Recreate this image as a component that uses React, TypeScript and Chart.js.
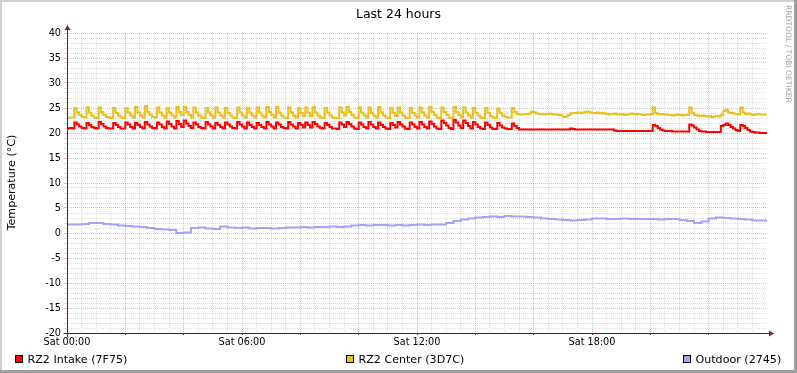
import React, { useEffect, useRef } from 'react';
import { Chart, registerables } from 'chart.js';

Chart.register(...registerables);

const CANVAS_W = 797;
const CANVAS_H = 373;
const FONT = '"DejaVu Sans", sans-serif';

const TITLE = 'Last 24 hours';
const Y_AXIS_TITLE = 'Temperature (°C)';
const WATERMARK = 'RRDTOOL / TOBI OETIKER';

const Y_MIN = -20;
const Y_MAX = 40;
const X_MIN_H = 0;
const X_MAX_H = 24;
const X_LABEL_HOURS = [0, 6, 12, 18];
const X_LABELS = ['Sat 00:00', 'Sat 06:00', 'Sat 12:00', 'Sat 18:00'];

const SERIES_NAMES = ['RZ2 Intake (7F75)', 'RZ2 Center (3D7C)', 'Outdoor (2745)'];
const SERIES_COLORS = ['#FF0000', '#EAC01E', '#A3A3FA'];

// sample spacing in hours
const FINE_STEP_H = 5 / 60;
const COARSE_STEP_H = 0.25;

// RZ2 Intake, every 5 minutes (one row per hour)
const intake = [
  20.9, 20.9, 21.0, 20.9, 22.1, 21.7, 21.3, 21.0, 20.9, 22.0, 21.6, 21.2,
  21.0, 20.9, 22.2, 21.8, 21.3, 21.0, 20.9, 20.9, 22.0, 21.6, 21.2, 20.9,
  20.9, 22.1, 21.7, 21.2, 20.9, 22.0, 21.6, 21.2, 20.9, 22.2, 21.7, 21.3,
  21.0, 20.9, 22.1, 21.7, 21.2, 20.9, 22.3, 21.8, 21.3, 20.9, 22.4, 21.8,
  21.2, 22.5, 21.9, 21.4, 21.0, 22.1, 21.7, 21.2, 21.0, 20.9, 22.2, 21.7,
  21.3, 20.9, 22.0, 21.6, 21.2, 20.9, 22.1, 21.7, 21.3, 21.0, 20.9, 22.2,
  21.7, 21.3, 20.9, 22.1, 21.6, 21.2, 20.9, 22.0, 21.6, 21.2, 20.9, 22.2,
  21.7, 21.3, 20.9, 22.1, 21.7, 21.2, 21.0, 20.9, 22.2, 21.7, 21.3, 20.9,
  22.0, 21.6, 21.1, 22.1, 21.6, 21.1, 22.2, 21.8, 21.3, 21.0, 20.9, 22.0,
  21.6, 21.2, 20.9, 20.9, 20.8, 22.1, 21.7, 21.2, 22.2, 21.8, 21.3, 20.9,
  20.8, 22.1, 21.7, 21.2, 20.9, 22.2, 21.7, 21.2, 20.9, 22.1, 21.6, 21.2,
  20.9, 20.8, 22.0, 21.6, 21.1, 22.2, 21.7, 21.3, 20.9, 20.8, 22.1, 21.7,
  21.2, 20.9, 22.2, 21.7, 21.2, 20.9, 22.3, 21.8, 21.3, 20.9, 20.8, 22.5,
  22.0, 21.5, 21.0, 20.8, 22.6, 22.1, 21.5, 21.0, 22.5, 22.0, 21.4, 20.9,
  22.2, 21.7, 21.2, 20.9, 20.8, 22.1, 21.6, 21.1, 20.8, 20.8, 22.0, 21.5,
  21.1, 20.9, 20.8, 20.8, 21.9, 21.4, 21.0, 20.7, 20.7, 20.7, 20.7, 20.7,
  20.7, 20.7, 20.7, 20.7, 20.7, 20.7, 20.7, 20.7, 20.7, 20.7, 20.7, 20.7,
  20.7, 20.7, 20.7, 20.7, 20.9, 20.8, 20.7, 20.7, 20.7, 20.7, 20.7, 20.7,
  20.7, 20.7, 20.7, 20.7, 20.7, 20.7, 20.7, 20.7, 20.7, 20.7, 20.5, 20.4,
  20.4, 20.4, 20.4, 20.4, 20.4, 20.4, 20.4, 20.4, 20.4, 20.4, 20.4, 20.4,
  20.4, 20.4, 21.6, 21.4, 21.0, 20.7, 20.5, 20.4, 20.4, 20.4, 20.3, 20.3,
  20.3, 20.3, 20.3, 20.3, 20.3, 21.7, 21.5, 21.1, 20.7, 20.4, 20.3, 20.3,
  20.2, 20.2, 20.2, 20.2, 20.2, 20.2, 21.4, 21.6, 21.9, 21.6, 21.2, 20.9,
  20.6, 20.4, 21.6, 21.4, 21.0, 20.6, 20.3, 20.2, 20.1, 20.1, 20.0, 20.0,
  20.0,
];

// RZ2 Center, every 5 minutes
const center = [
  23.1, 23.1, 23.1, 23.1, 25.0, 24.1, 23.6, 23.2, 23.1, 25.1, 24.1, 23.5,
  23.1, 23.0, 25.1, 24.2, 23.6, 23.2, 23.1, 23.0, 25.0, 24.0, 23.5, 23.1,
  23.0, 25.0, 24.1, 23.5, 23.1, 25.2, 24.1, 23.5, 23.1, 25.4, 24.2, 23.6,
  23.2, 23.1, 25.1, 24.1, 23.5, 23.1, 25.0, 24.1, 23.5, 23.1, 25.2, 24.2,
  23.6, 25.2, 24.2, 23.6, 23.1, 25.1, 24.1, 23.5, 23.1, 23.0, 25.0, 24.1,
  23.5, 23.1, 25.1, 24.1, 23.5, 23.1, 25.0, 24.0, 23.5, 23.1, 23.0, 25.1,
  24.1, 23.5, 23.1, 25.0, 24.1, 23.5, 23.1, 25.1, 24.1, 23.5, 23.1, 25.2,
  24.2, 23.6, 23.1, 25.2, 24.1, 23.5, 23.1, 23.0, 25.1, 24.1, 23.5, 23.1,
  25.0, 24.0, 23.4, 25.1, 24.0, 23.4, 25.2, 24.1, 23.5, 23.1, 23.0, 25.0,
  24.1, 23.5, 23.1, 23.0, 23.0, 25.1, 24.1, 23.5, 25.2, 24.2, 23.6, 23.1,
  23.0, 25.1, 24.1, 23.5, 23.1, 25.1, 24.0, 23.5, 23.1, 25.2, 24.1, 23.5,
  23.1, 23.0, 25.0, 24.0, 23.4, 25.1, 24.1, 23.5, 23.1, 23.0, 25.0, 24.0,
  23.5, 23.1, 25.1, 24.1, 23.5, 23.1, 25.2, 24.2, 23.6, 23.1, 23.0, 25.1,
  24.2, 23.6, 23.1, 23.0, 25.2, 24.2, 23.6, 23.1, 25.1, 24.1, 23.5, 23.1,
  25.0, 24.0, 23.5, 23.1, 23.0, 25.0, 24.0, 23.4, 23.1, 23.0, 24.9, 24.0,
  23.5, 23.2, 23.1, 23.1, 25.0, 24.2, 23.8, 23.7, 23.7, 23.8, 23.8, 23.9,
  24.3, 24.1, 23.9, 23.8, 23.8, 23.7, 23.8, 23.9, 23.8, 23.7, 23.7, 23.6,
  23.5, 23.2, 23.3, 23.6, 23.9, 24.0, 24.0, 24.1, 24.0, 24.1, 24.2, 24.3,
  24.1, 24.0, 24.0, 24.1, 23.9, 24.0, 23.9, 23.8, 23.7, 23.8, 23.9, 23.7,
  23.7, 23.8, 23.6, 23.7, 23.8, 23.9, 23.8, 23.7, 23.8, 23.7, 23.6, 23.7,
  23.7, 23.8, 25.1, 24.0, 23.8, 23.7, 23.8, 23.7, 23.6, 23.6, 23.5, 23.6,
  23.7, 23.6, 23.5, 23.6, 23.6, 25.1, 24.0, 23.6, 23.5, 23.4, 23.5, 23.4,
  23.3, 23.4, 23.2, 23.3, 23.4, 23.3, 23.6, 24.4, 24.6, 24.1, 24.0, 23.9,
  23.8, 23.7, 25.1, 24.1, 23.8, 23.9, 23.7, 23.6, 23.7, 23.8, 23.7, 23.7,
  23.7,
];

// Outdoor, every 15 minutes (one row per hour)
const outdoor = [
  1.6, 1.7, 1.7, 1.8,
  2.0, 2.0, 1.8, 1.7,
  1.5, 1.4, 1.3, 1.2,
  1.0, 0.8, 0.7, 0.6,
  0.0, 0.1, 1.0, 1.1,
  0.9, 0.8, 1.3, 1.1,
  1.0, 1.1, 0.9, 1.0,
  1.0, 0.9, 1.0, 1.1,
  1.1, 1.2, 1.1, 1.2,
  1.2, 1.3, 1.2, 1.3,
  1.5, 1.6, 1.5, 1.6,
  1.6, 1.5, 1.6, 1.5,
  1.6, 1.7, 1.6, 1.7,
  1.7, 2.0, 2.4, 2.7,
  2.9, 3.1, 3.2, 3.3,
  3.2, 3.4, 3.3, 3.3,
  3.2, 3.1, 2.9, 2.8,
  2.7, 2.6, 2.5, 2.6,
  2.7, 2.9, 2.9, 2.8,
  2.8, 2.9, 2.8, 2.8,
  2.8, 2.8, 2.7, 2.8,
  2.8, 2.6, 2.4, 2.0,
  2.3, 2.9, 3.1, 3.0,
  2.9, 2.8, 2.7, 2.5,
  2.5,
];

const SERIES_VALUES = [intake, center, outdoor];
const SERIES_STEPS = [FINE_STEP_H, FINE_STEP_H, COARSE_STEP_H];

const MINOR_GRID = 'rgba(143,143,143,0.3)';
const MAJOR_GRID = 'rgba(222,79,79,0.42)';
const ARROW_COLOR = '#801F1F';
const AXIS_COLOR = '#3a2a2a';
const SHADE_A = '#CFCFCF';
const SHADE_B = '#9E9E9E';

const LEGEND_TEXT_X = [27.5, 358.5, 695.5];

const rrdPlugin = {
  id: 'rrdDecor',
  beforeDraw(chart: any) {
    const { ctx, width, height } = chart;
    ctx.save();
    ctx.fillStyle = '#ffffff';
    ctx.fillRect(0, 0, width, height);
    ctx.fillStyle = SHADE_A;
    ctx.fillRect(0, 0, width, 2);
    ctx.fillRect(0, 0, 2, height);
    ctx.fillStyle = SHADE_B;
    ctx.fillRect(0, height - 3, width, 3);
    ctx.fillRect(width - 3, 0, 3, height);
    ctx.restore();
  },
  afterDatasetsDraw(chart: any) {
    const { ctx, scales } = chart;
    const x0 = Math.round(scales.x.getPixelForValue(X_MIN_H)) + 0.5;
    const x1 = Math.round(scales.x.getPixelForValue(X_MAX_H));
    const yb = Math.round(scales.y.getPixelForValue(Y_MIN)) + 0.5;
    const yt = Math.round(scales.y.getPixelForValue(Y_MAX));
    ctx.save();
    ctx.strokeStyle = AXIS_COLOR;
    ctx.lineWidth = 1;
    ctx.beginPath();
    ctx.moveTo(x0 - 4, yb);
    ctx.lineTo(x1 + 2, yb);
    ctx.moveTo(x0, yb + 4);
    ctx.lineTo(x0, yt - 3);
    ctx.stroke();
    ctx.fillStyle = ARROW_COLOR;
    ctx.beginPath();
    ctx.moveTo(x1 + 2, yb - 3);
    ctx.lineTo(x1 + 7, yb);
    ctx.lineTo(x1 + 2, yb + 3);
    ctx.closePath();
    ctx.fill();
    ctx.beginPath();
    ctx.moveTo(x0 - 3, yt - 3);
    ctx.lineTo(x0, yt - 8);
    ctx.lineTo(x0 + 3, yt - 3);
    ctx.closePath();
    ctx.fill();
    ctx.restore();
  },
  afterDraw(chart: any) {
    const { ctx, width } = chart;
    ctx.save();
    ctx.fillStyle = '#000';
    ctx.textBaseline = 'alphabetic';
    // title
    ctx.font = `12.5px ${FONT}`;
    ctx.textAlign = 'center';
    ctx.fillText(TITLE, width / 2, 18);
    // vertical axis title
    ctx.save();
    ctx.font = `11.1px ${FONT}`;
    ctx.translate(15, 182.5);
    ctx.rotate(-Math.PI / 2);
    ctx.textAlign = 'center';
    ctx.fillText(Y_AXIS_TITLE, 0, 0);
    ctx.restore();
    // watermark
    ctx.save();
    ctx.font = `7.6px ${FONT}`;
    ctx.fillStyle = '#a0a0a0';
    ctx.translate(786, 5);
    ctx.rotate(Math.PI / 2);
    ctx.textAlign = 'left';
    ctx.fillText(WATERMARK, 0, 0);
    ctx.restore();
    // legend
    ctx.font = `11.1px ${FONT}`;
    ctx.textAlign = 'left';
    SERIES_NAMES.forEach((name, i) => {
      const tx = LEGEND_TEXT_X[i];
      const bx = Math.round(tx - 12.5);
      ctx.fillStyle = SERIES_COLORS[i];
      ctx.fillRect(bx, 355, 8, 8);
      ctx.strokeStyle = '#000';
      ctx.lineWidth = 1;
      ctx.strokeRect(bx + 0.5, 355.5, 7, 7);
      ctx.fillStyle = '#000';
      ctx.fillText(name, tx, 363);
    });
    ctx.restore();
  },
};

export default function App() {
  const canvasRef = useRef<HTMLCanvasElement | null>(null);

  useEffect(() => {
    document.body.style.margin = '0';
    const canvas = canvasRef.current;
    if (!canvas) return;

    const datasets = SERIES_VALUES.map((vals, si) => ({
      label: SERIES_NAMES[si],
      data: vals.map((v, i) => ({ x: i * SERIES_STEPS[si], y: v })),
      borderColor: SERIES_COLORS[si],
      backgroundColor: SERIES_COLORS[si],
      borderWidth: 2,
      pointRadius: 0,
      stepped: 'after' as const,
      fill: false,
      tension: 0,
      borderJoinStyle: 'miter' as const,
    }));

    const tickFont = { family: FONT, size: 9.7 };

    const chart = new Chart(canvas, {
      type: 'line',
      data: { datasets },
      options: {
        animation: false,
        responsive: false,
        maintainAspectRatio: false,
        devicePixelRatio: 1,
        events: [],
        layout: { autoPadding: false, padding: { top: 33, right: 30, left: 0, bottom: 0 } },
        plugins: {
          legend: { display: false },
          title: { display: false },
          tooltip: { enabled: false },
        },
        scales: {
          x: {
            type: 'linear',
            min: X_MIN_H,
            max: X_MAX_H,
            afterFit: (s: any) => { s.height = 40; },
            ticks: {
              stepSize: 0.5,
              autoSkip: false,
              maxRotation: 0,
              minRotation: 0,
              padding: 2,
              color: '#000',
              font: tickFont,
              callback: (v: any) => {
                const idx = X_LABEL_HOURS.indexOf(Number(v));
                return idx >= 0 ? X_LABELS[idx] : '';
              },
            },
            grid: {
              lineWidth: 1,
              tickLength: 2,
              color: (c: any) => {
                const v = c.tick ? c.tick.value : null;
                if (v === null || v <= X_MIN_H || v >= X_MAX_H) return 'rgba(0,0,0,0)';
                return v % 2 === 0 ? MAJOR_GRID : MINOR_GRID;
              },
              tickColor: (c: any) => {
                const v = c.tick ? c.tick.value : null;
                if (v === null || v >= X_MAX_H) return 'rgba(0,0,0,0)';
                return v % 2 === 0 ? ARROW_COLOR : 'rgba(0,0,0,0)';
              },
            },
            border: { display: false, dash: [1, 1] },
          },
          y: {
            type: 'linear',
            min: Y_MIN,
            max: Y_MAX,
            afterFit: (s: any) => { s.width = 67; },
            ticks: {
              stepSize: 1,
              autoSkip: false,
              padding: 3,
              color: '#000',
              font: tickFont,
              callback: (v: any) => (Number(v) % 5 === 0 ? String(v) : ''),
            },
            grid: {
              lineWidth: 1,
              tickLength: 3,
              color: (c: any) => {
                const v = c.tick ? c.tick.value : null;
                if (v === null || v <= Y_MIN) return 'rgba(0,0,0,0)';
                return v % 5 === 0 ? MAJOR_GRID : MINOR_GRID;
              },
              tickColor: (c: any) => {
                const v = c.tick ? c.tick.value : null;
                if (v === null) return 'rgba(0,0,0,0)';
                return v % 5 === 0 ? MAJOR_GRID : MINOR_GRID;
              },
            },
            border: { display: false, dash: [1, 1] },
          },
        },
      },
      plugins: [rrdPlugin],
    });

    return () => {
      chart.destroy();
    };
  }, []);

  return (
    <div style={{ width: CANVAS_W, height: CANVAS_H }}>
      <canvas ref={canvasRef} width={CANVAS_W} height={CANVAS_H} style={{ display: 'block', width: CANVAS_W, height: CANVAS_H }} />
    </div>
  );
}
